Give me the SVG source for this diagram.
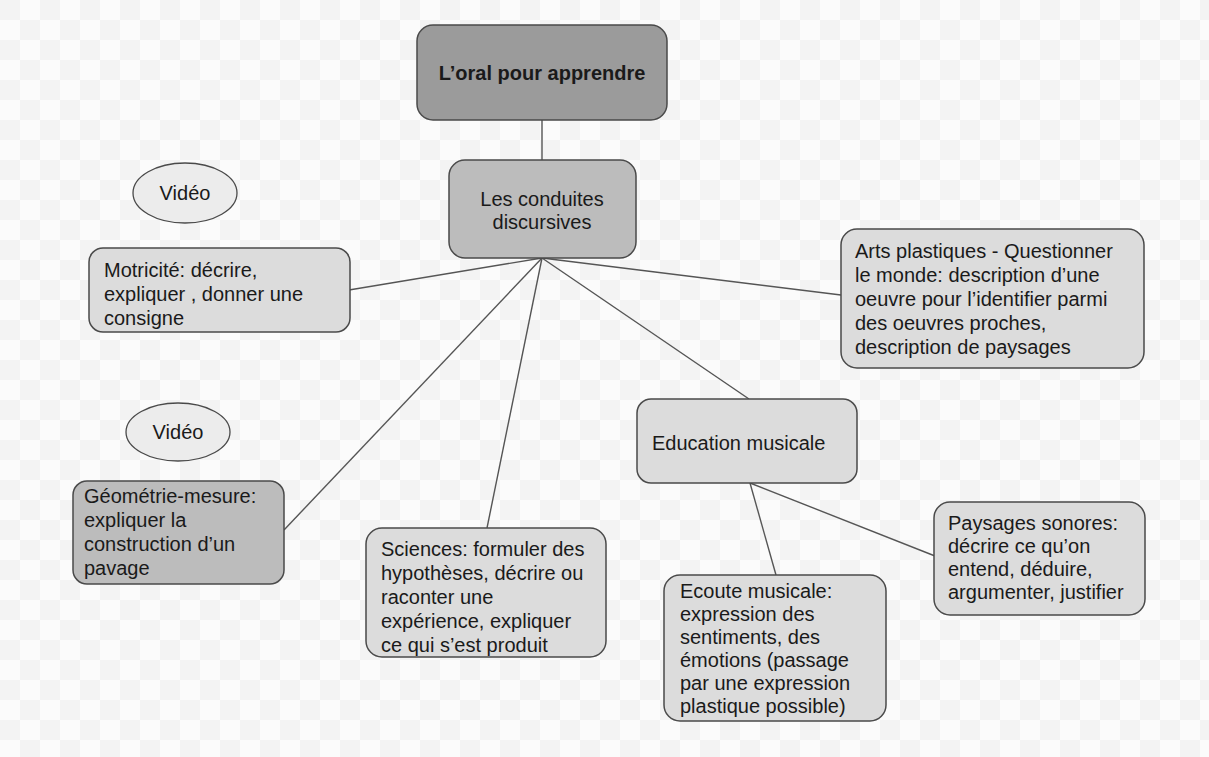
<svg xmlns="http://www.w3.org/2000/svg" width="1209" height="757" viewBox="0 0 1209 757">
<defs>
<pattern id="checker" width="40" height="40" patternUnits="userSpaceOnUse">
<rect width="40" height="40" fill="#fbfbfb"/>
<rect width="20" height="20" fill="#f3f3f3"/>
<rect x="20" y="20" width="20" height="20" fill="#f3f3f3"/>
</pattern>
</defs>
<style>
.box{stroke:#4a4a4a;stroke-width:1.5}
.dark{fill:#9b9b9b}
.mid{fill:#bcbcbc}
.light{fill:#dcdcdc}
.oval{fill:#ececec;stroke:#4a4a4a;stroke-width:1.3}
.con{stroke:#555;stroke-width:1.4;fill:none}
text{font-family:"Liberation Sans",Arial,sans-serif;font-size:20px;fill:#1a1a1a}
.title{font-weight:bold}
.c{text-anchor:middle}
</style>
<rect width="1209" height="757" fill="url(#checker)"/>
<g id="connectors">
<line class="con" x1="542" y1="120" x2="542" y2="160"/>
<line class="con" x1="542" y1="258" x2="349" y2="290"/>
<line class="con" x1="542" y1="258" x2="841" y2="295"/>
<line class="con" x1="542" y1="258" x2="284" y2="530"/>
<line class="con" x1="542" y1="258" x2="487" y2="528"/>
<line class="con" x1="542" y1="258" x2="749" y2="399"/>
<line class="con" x1="750" y1="483" x2="776" y2="575"/>
<line class="con" x1="750" y1="483" x2="935" y2="556"/>
</g>
<g id="n-oral">
<rect class="box dark" x="417" y="25" width="250" height="95" rx="16"/>
<text class="title c" x="542" y="80">L’oral pour apprendre</text>
</g>
<g id="n-conduites">
<rect class="box mid" x="449" y="160" width="187" height="98" rx="16"/>
<text class="c" x="542" y="206">Les conduites</text>
<text class="c" x="542" y="229">discursives</text>
</g>
<g id="n-video1">
<ellipse class="oval" cx="185" cy="193" rx="52" ry="30"/>
<text class="c" x="185" y="200">Vidéo</text>
</g>
<g id="n-motricite">
<rect class="box light" x="89" y="248" width="261" height="84" rx="14"/>
<text x="104" y="277">Motricité: décrire,</text>
<text x="104" y="301">expliquer , donner une</text>
<text x="104" y="325">consigne</text>
</g>
<g id="n-arts">
<rect class="box light" x="841" y="229" width="303" height="139" rx="16"/>
<text x="855" y="258">Arts plastiques - Questionner</text>
<text x="855" y="282">le monde: description d’une</text>
<text x="855" y="306">oeuvre pour l’identifier parmi</text>
<text x="855" y="330">des oeuvres proches,</text>
<text x="855" y="354">description de paysages</text>
</g>
<g id="n-video2">
<ellipse class="oval" cx="178" cy="432" rx="52" ry="29"/>
<text class="c" x="178" y="439">Vidéo</text>
</g>
<g id="n-geometrie">
<rect class="box mid" x="73" y="481" width="211" height="103" rx="14"/>
<text x="84" y="503">Géométrie-mesure:</text>
<text x="84" y="527">expliquer la</text>
<text x="84" y="551">construction d’un</text>
<text x="84" y="575">pavage</text>
</g>
<g id="n-sciences">
<rect class="box light" x="366" y="528" width="240" height="129" rx="16"/>
<text x="381" y="556">Sciences: formuler des</text>
<text x="381" y="580">hypothèses, décrire ou</text>
<text x="381" y="604">raconter une</text>
<text x="381" y="628">expérience, expliquer</text>
<text x="381" y="652">ce qui s’est produit</text>
</g>
<g id="n-education">
<rect class="box light" x="637" y="399" width="220" height="84" rx="14"/>
<text x="652" y="450">Education musicale</text>
</g>
<g id="n-ecoute">
<rect class="box light" x="664" y="575" width="222" height="146" rx="16"/>
<text x="680" y="598">Ecoute musicale:</text>
<text x="680" y="621">expression des</text>
<text x="680" y="644">sentiments, des</text>
<text x="680" y="667">émotions (passage</text>
<text x="680" y="690">par une expression</text>
<text x="680" y="713">plastique possible)</text>
</g>
<g id="n-paysages">
<rect class="box light" x="934" y="502" width="211" height="113" rx="16"/>
<text x="948" y="530">Paysages sonores:</text>
<text x="948" y="553">décrire ce qu’on</text>
<text x="948" y="576">entend, déduire,</text>
<text x="948" y="599">argumenter, justifier</text>
</g>
</svg>
